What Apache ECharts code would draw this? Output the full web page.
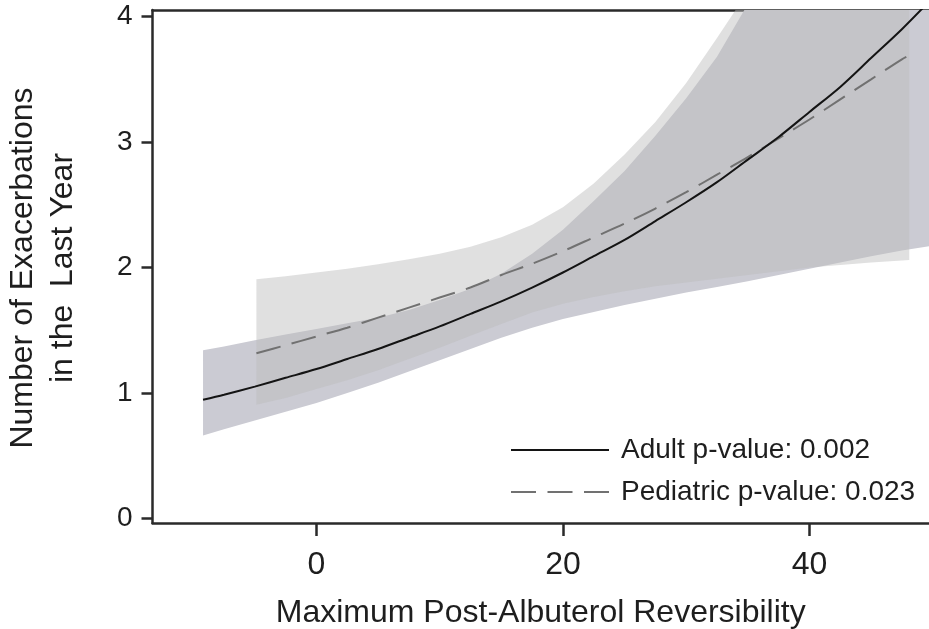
<!DOCTYPE html>
<html>
<head>
<meta charset="utf-8">
<script src="https://cdn.jsdelivr.net/npm/echarts@6/dist/echarts.min.js"></script>
<style>
  html, body { margin: 0; padding: 0; background: #fff; }
  #chart { width: 929px; height: 629px; }
</style>
</head>
<body>
<div id="chart"></div>
<script>
// Predicted number of exacerbations vs. maximum post-albuterol reversibility,
// with 95% confidence bands, for the adult and pediatric cohorts.

const groups = ['Adult', 'Pediatric'];
const pValues = ['0.002', '0.023'];

// Adult cohort: reversibility, fitted count, lower and upper confidence limits
const adultX    = [-9.2, -7.5, -5, -2.5, 0, 2.5, 5, 7.5, 10, 12.5, 15, 17.5, 20, 22.5, 25, 27.5, 30, 32.5, 35, 37.5, 40, 42.5, 45, 47.5, 49.7];
const adultFit  = [0.945, 0.985, 1.05, 1.12, 1.19, 1.27, 1.35, 1.44, 1.53, 1.63, 1.73, 1.84, 1.96, 2.09, 2.22, 2.37, 2.52, 2.68, 2.86, 3.04, 3.24, 3.44, 3.67, 3.90, 4.12];
const adultLow  = [0.66, 0.71, 0.78, 0.85, 0.92, 1.00, 1.08, 1.17, 1.26, 1.35, 1.44, 1.52, 1.59, 1.645, 1.70, 1.75, 1.80, 1.845, 1.89, 1.94, 1.99, 2.04, 2.09, 2.135, 2.17];
const adultHigh = [1.34, 1.37, 1.42, 1.465, 1.51, 1.555, 1.60, 1.66, 1.74, 1.83, 1.95, 2.11, 2.30, 2.53, 2.77, 3.05, 3.35, 3.68, 4.10, 4.55, 5.05, 5.6, 6.2, 6.9, 7.6];

// Pediatric cohort
const pedX    = [-4.87, -2.5, 0, 2.5, 5, 7.5, 10, 12.5, 15, 17.5, 20, 22.5, 25, 27.5, 30, 32.5, 35, 37.5, 40, 42.5, 45, 47.5, 48.1];
const pedFit  = [1.316, 1.38, 1.45, 1.52, 1.60, 1.68, 1.76, 1.84, 1.94, 2.03, 2.13, 2.24, 2.35, 2.47, 2.60, 2.74, 2.88, 3.03, 3.18, 3.34, 3.50, 3.66, 3.69];
const pedLow  = [0.905, 0.96, 1.03, 1.10, 1.18, 1.27, 1.36, 1.455, 1.55, 1.64, 1.71, 1.765, 1.81, 1.85, 1.88, 1.91, 1.94, 1.97, 2.00, 2.02, 2.04, 2.055, 2.06];
const pedHigh = [1.906, 1.93, 1.96, 1.99, 2.025, 2.065, 2.11, 2.165, 2.24, 2.34, 2.48, 2.67, 2.90, 3.16, 3.47, 3.83, 4.2, 4.6, 5.0, 5.5, 6.0, 6.6, 6.7];

// Axis ticks
const xTicks = [0, 20, 40];
const yTicks = [0, 1, 2, 3, 4];

const FONT = '"Liberation Sans", Arial, Helvetica, sans-serif';
const INK = '#1e1e1e';
const AXIS = '#2a2a2a';

function zip(xs, ys) { return xs.map((x, i) => [x, ys[i]]); }

// Confidence band drawn as a filled polygon between the lower and upper limits
function bandSeries(name, xs, lo, hi, fill, z) {
  const data = xs.map((x, i) => [x, lo[i], hi[i]]);
  return {
    type: 'custom',
    name: name,
    z: z,
    clip: true,
    silent: true,
    data: data,
    encode: { x: 0, y: [1, 2] },
    renderItem: function (params, api) {
      if (params.dataIndex !== 0) return null;
      const top = data.map(d => api.coord([d[0], d[2]]));
      const bottom = data.map(d => api.coord([d[0], d[1]])).reverse();
      return {
        type: 'polygon',
        shape: { points: top.concat(bottom) },
        style: { fill: fill }
      };
    }
  };
}

const chart = echarts.init(document.getElementById('chart'), null, { renderer: 'canvas' });

chart.setOption({
  animation: false,
  backgroundColor: '#ffffff',
  grid: { left: 152.5, right: 0, top: 10, bottom: 106, containLabel: false, outerBoundsMode: 'none' },
  xAxis: [{
    type: 'value',
    min: -13.3,
    max: 49.7,
    axisLine: { show: true, onZero: false, lineStyle: { color: AXIS, width: 2.5 } },
    axisTick: { show: true, length: 13, customValues: xTicks, lineStyle: { color: AXIS, width: 2.5 } },
    axisLabel: { customValues: xTicks, margin: 26, fontSize: 32, fontFamily: FONT, color: INK },
    splitLine: { show: false },
    name: 'Maximum Post-Albuterol Reversibility',
    nameLocation: 'middle',
    nameGap: 74,
    nameTextStyle: { fontSize: 32, fontFamily: FONT, color: INK }
  }, {
    type: 'value',
    position: 'top',
    min: -13.3,
    max: 49.7,
    axisLine: { show: true, onZero: false, lineStyle: { color: AXIS, width: 2.5 } },
    axisTick: { show: false },
    axisLabel: { show: false },
    splitLine: { show: false }
  }],
  yAxis: {
    type: 'value',
    min: -0.0375,
    max: 4.053,
    axisLine: { show: true, onZero: false, lineStyle: { color: AXIS, width: 2.5 } },
    axisTick: { show: true, length: 11, customValues: yTicks, lineStyle: { color: AXIS, width: 2.5 } },
    axisLabel: { customValues: yTicks, margin: 20, fontSize: 28, fontFamily: FONT, color: INK },
    splitLine: { show: false }
  },
  legend: {
    data: groups,
    orient: 'vertical',
    left: 510,
    top: 435,
    padding: 0,
    itemGap: 12,
    itemWidth: 98,
    itemHeight: 14,
    itemStyle: { opacity: 0, borderWidth: 0 },
    formatter: function (name) {
      return name + ' p-value: ' + pValues[groups.indexOf(name)];
    },
    textStyle: { fontSize: 28, fontFamily: FONT, color: INK, lineHeight: 30, padding: [0, 0, 0, 7] }
  },
  graphic: [{
    type: 'text',
    x: 43,
    y: 268,
    rotation: Math.PI / 2,
    silent: true,
    style: {
      text: 'Number of Exacerbations\nin the  Last Year',
      align: 'center',
      verticalAlign: 'middle',
      fontSize: 32,
      fontFamily: FONT,
      lineHeight: 40,
      fill: INK
    }
  }],
  series: [
    bandSeries('Adult 95% CI', adultX, adultLow, adultHigh, 'rgb(203,203,211)', 1),
    bandSeries('Pediatric 95% CI', pedX, pedLow, pedHigh, 'rgba(188,188,188,0.46)', 2),
    {
      type: 'line',
      name: groups[0],
      data: zip(adultX, adultFit),
      z: 4,
      smooth: 0.3,
      symbol: 'none',
      clip: true,
      silent: true,
      lineStyle: { color: '#141414', width: 2 },
      itemStyle: { color: '#141414' }
    },
    {
      type: 'line',
      name: groups[1],
      data: zip(pedX, pedFit),
      z: 3,
      smooth: 0.3,
      symbol: 'none',
      clip: true,
      silent: true,
      lineStyle: { color: '#717171', width: 2, type: [25, 11.5] },
      itemStyle: { color: '#717171' }
    }
  ]
});
</script>
</body>
</html>
